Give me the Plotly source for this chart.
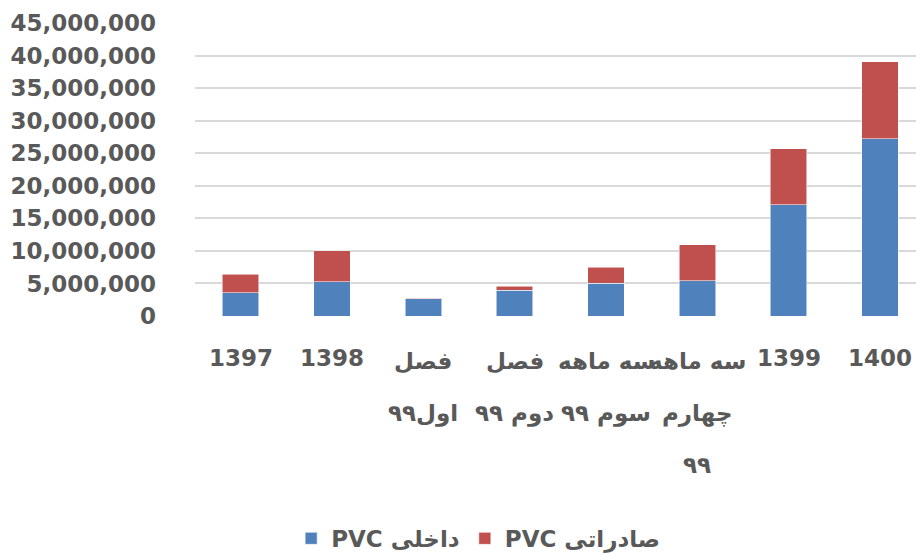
import plotly.graph_objects as go

categories = ["1397", "1398", "فصل اول۹۹", "فصل دوم ۹۹", "سه ماهه سوم ۹۹",
              "سه ماهه چهارم ۹۹", "1399", "1400"]
tick_lines = [["1397"], ["1398"], ["فصل", "اول۹۹"], ["فصل", "دوم ۹۹"],
              ["سه ماهه", "سوم ۹۹"], ["سه ماهه", "چهارم", "۹۹"], ["1399"], ["1400"]]
domestic = [3570000, 5260000, 2650000, 3980000, 5050000, 5410000, 17090000, 27240000]
export = [2810000, 4740000, 110000, 560000, 2450000, 5560000, 8620000, 11790000]
series_names = ["PVC داخلی", "PVC صادراتی"]
colors = ["#4F81BD", "#C0504D"]

FONT = "DejaVu Sans"
TXT = "#595959"

fig = go.Figure()
for name, vals, col in zip(series_names, [domestic, export], colors):
    fig.add_trace(go.Bar(
        x=categories, y=vals, name=name, width=0.4,
        marker=dict(color=col, line=dict(color="rgba(255,255,255,0.7)", width=0.75)),
    ))

annotations = []
for idx, lines in enumerate(tick_lines):
    for i, line in enumerate(lines):
        is_digit_line = line.isascii()
        annotations.append(dict(
            x=idx, xref="x", y=0, yref="paper", yanchor="middle", xanchor="center",
            yshift=-(42 + 52 * i) - (0 if is_digit_line else 3), text=line, showarrow=False,
            font=dict(family=FONT, size=23, color=TXT, weight="bold"),
        ))

fig.update_layout(
    barmode="stack",
    width=916, height=554,
    margin=dict(l=195, r=0, t=23, b=238, pad=0, autoexpand=False),
    paper_bgcolor="white", plot_bgcolor="white",
    bargap=0.6,
    xaxis=dict(type="category", range=[-0.5, 7.394], showticklabels=False,
               showgrid=False, zeroline=False, showline=False, ticks="",
               automargin=False),
    yaxis=dict(range=[0, 45000000], dtick=5000000, tickformat=",",
               showgrid=True, gridcolor="#D9D9D9", gridwidth=1.5,
               zeroline=False, showline=False, ticks="", ticklabelstandoff=38,
               automargin=False,
               tickfont=dict(family=FONT, size=23, color=TXT, weight="bold")),
    showlegend=True,
    legend=dict(orientation="h", xref="container", yref="container",
                x=0.522, xanchor="center", y=0.067, yanchor="top",
                traceorder="normal",
                font=dict(family=FONT, size=23, color=TXT, weight="bold"),
                itemwidth=30),
    annotations=annotations,
)

fig.write_html("out.html", post_script="document.body.style.margin='0';",
               config={"displayModeBar": False})
